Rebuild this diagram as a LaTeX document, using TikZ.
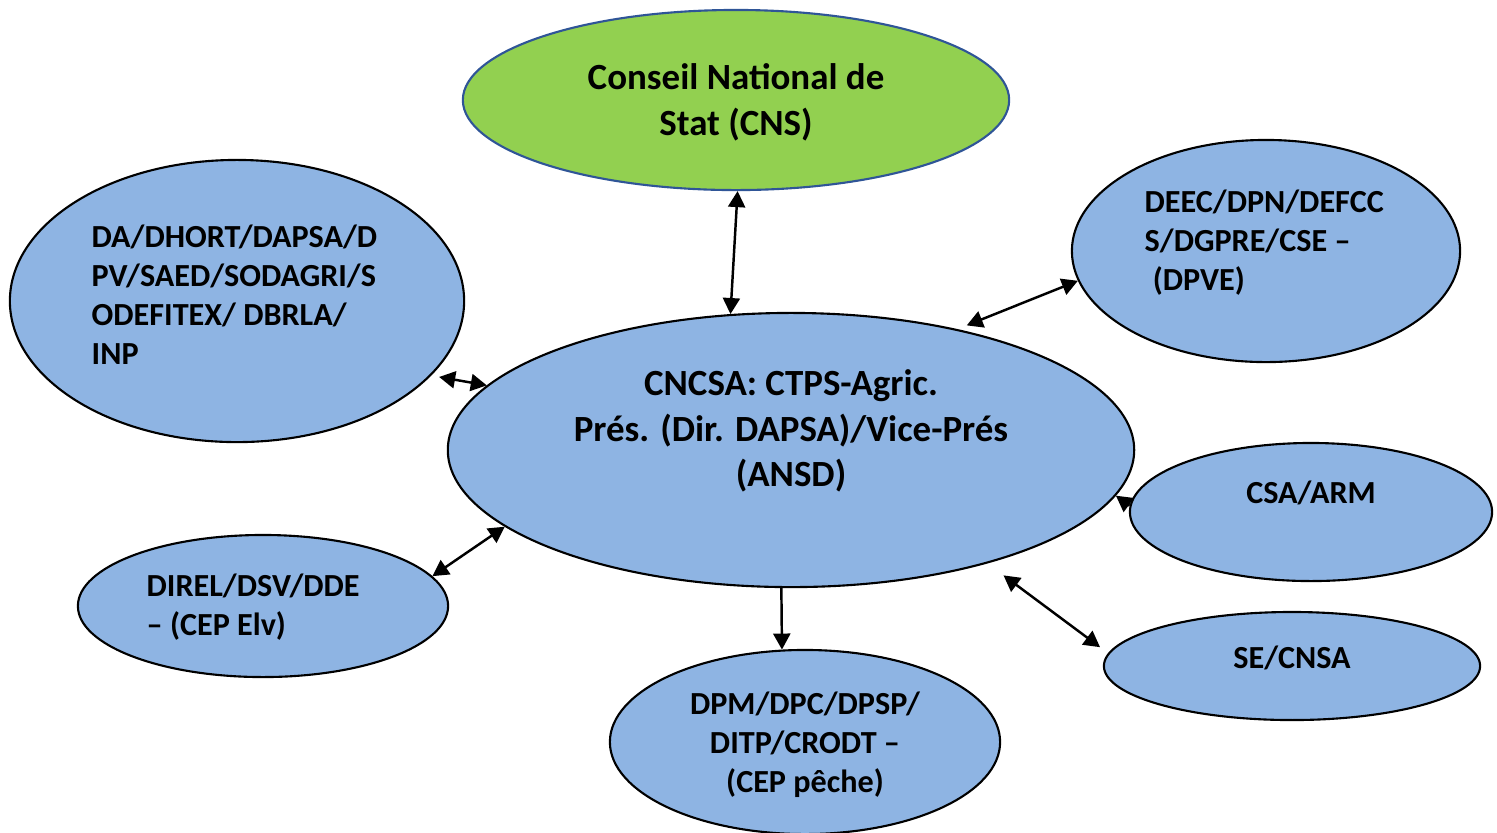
\documentclass[tikz,border=0pt]{standalone}
\usepackage{fontspec}
\setmainfont{Carlito}
\usetikzlibrary{arrows.meta, shapes.geometric}
\definecolor{boxblue}{HTML}{8EB4E3}
\definecolor{cnsgreen}{HTML}{92D050}
\definecolor{cnsline}{HTML}{2F5597}

\begin{document}
\begin{tikzpicture}[
    x=0.01cm, y=-0.01cm,
    blob/.style={draw=black, line width=0.6pt, ellipse, fill=boxblue, inner sep=0pt},
    bigtxt/.style={font=\bfseries\fontsize{10.5}{13}\selectfont, align=center, inner sep=0pt},
    smalltxt/.style={font=\bfseries\fontsize{9.15}{11.06}\selectfont, inner sep=0pt},
    twoway/.style={{Triangle[length=1.6mm,width=1.7mm]}-{Triangle[length=1.6mm,width=1.7mm]}, line width=0.7pt},
    oneway/.style={-{Triangle[length=1.6mm,width=1.7mm]}, line width=0.7pt}
]
\useasboundingbox (0,0) rectangle (1497,832);

% ellipses
\node[blob, fill=cnsgreen, draw=cnsline, minimum width=5.46cm, minimum height=1.8cm] (cns) at (736,100) {};
\node[blob, minimum width=6.86cm, minimum height=2.74cm] (cncsa) at (791,450) {};
\node[blob, minimum width=4.54cm, minimum height=2.82cm] (da) at (237,301) {};
\node[blob, minimum width=3.88cm, minimum height=2.22cm] (deec) at (1266,251) {};
\node[blob, minimum width=3.62cm, minimum height=1.38cm] (csa) at (1311,512) {};
\node[blob, minimum width=3.76cm, minimum height=1.08cm] (se) at (1292,666) {};
\node[blob, minimum width=3.90cm, minimum height=1.84cm] (dpm) at (805,742) {};
\node[blob, minimum width=3.70cm, minimum height=1.42cm] (direl) at (263,606) {};

% texts
\node[bigtxt] (cnsText) at (736,102) {Conseil National de\\Stat (CNS)};
\node[bigtxt] (cncsaText) at (791,431) {CNCSA: CTPS-Agric.\\Prés. (Dir. DAPSA)/Vice-Prés\\(ANSD)};
\node[smalltxt, align=left, anchor=west] (daText) at (91,295) {DA/DHORT/DAPSA/D\\PV/SAED/SODAGRI/S\\ODEFITEX/ DBRLA/\\INP};
\node[smalltxt, align=left, anchor=west] (deecText) at (1144,243) {DEEC/DPN/DEFCC\\S/DGPRE/CSE –\\\hspace*{0.25em}(DPVE)};
\node[smalltxt, align=center] (csaText) at (1311,493) {CSA/ARM};
\node[smalltxt, align=center] (seText) at (1292,658) {SE/CNSA};
\node[smalltxt, align=center] (dpmText) at (805,745) {DPM/DPC/DPSP/\\DITP/CRODT –\\(CEP pêche)};
\node[smalltxt, align=left, anchor=west] (direlText) at (146,607) {DIREL/DSV/DDE\\– (CEP Elv)};

% links
\draw[twoway] (cns.-89) -- (cncsa.114);
\draw[twoway, shorten <=0.08cm] (da.-21) -- (cncsa.168);
\draw[twoway, shorten >=0.1cm] (deec.189) -- (cncsa.36);
\draw[oneway] (csa.178) -- (cncsa.-8);
\draw[twoway, shorten <=0.1cm, shorten >=0.2cm] (se.176) -- (cncsa.-30);
\draw[oneway] (cncsa.-94) -- (dpm.104);
\draw[twoway] (direl.10) -- (cncsa.195);
\end{tikzpicture}
\end{document}
